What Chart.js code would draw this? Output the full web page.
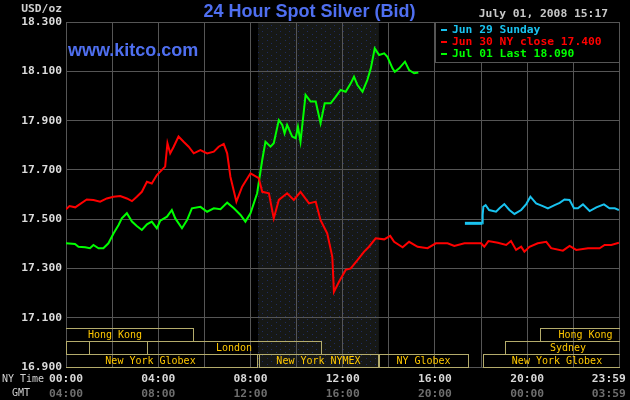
<!DOCTYPE html>
<html>
<head>
<meta charset="utf-8">
<title>24 Hour Spot Silver (Bid)</title>
<script src="https://cdn.jsdelivr.net/npm/chart.js@4.4.1/dist/chart.umd.min.js"></script>
<style>
  html, body { margin: 0; padding: 0; background: #000; }
  #chart { display: block; }
</style>
</head>
<body>
<canvas id="chart" width="630" height="400"></canvas>
<script>
// Hours are New York time, 0 = midnight
const dayEnd = 23 + 59 / 60;

// Jun 29 (Sunday evening open)
const jun29Hours = [17.30, 18.06, 18.07, 18.10, 18.20, 18.35, 18.65, 18.80, 19.01, 19.23, 19.45, 19.74, 19.96, 20.14, 20.39,
  20.68, 20.90, 21.19, 21.41, 21.62, 21.84, 22.03, 22.20, 22.42, 22.71, 23.00, 23.33, 23.57, 23.80, 23.98];
const jun29Prices = [17.483, 17.483, 17.517, 17.550, 17.557, 17.537, 17.530, 17.544, 17.561, 17.537, 17.521, 17.537, 17.561, 17.591, 17.564,
  17.553, 17.544, 17.557, 17.566, 17.580, 17.578, 17.544, 17.544, 17.560, 17.533, 17.548, 17.560, 17.544, 17.544, 17.537];

// Jun 30
const jun30Hours = [0.00, 0.15, 0.40, 0.90, 1.19, 1.48, 1.77, 2.06, 2.35, 2.64, 2.86, 3.07, 3.29, 3.51, 3.72, 3.94, 4.16, 4.30, 4.40,
  4.52, 4.67, 4.88, 5.10, 5.32, 5.54, 5.83, 6.12, 6.41, 6.62, 6.84, 6.99, 7.13, 7.39, 7.64, 8.00, 8.36, 8.51, 8.80, 9.01,
  9.23, 9.59, 9.88, 10.17, 10.54, 10.83, 11.04, 11.33, 11.55, 11.62, 11.84, 12.13, 12.35, 12.64, 12.93, 13.14, 13.43, 13.80,
  14.06, 14.23, 14.60, 14.88, 15.25, 15.68, 16.04, 16.55, 16.84, 17.28, 18.00, 18.14, 18.32, 18.73, 19.09, 19.30, 19.52,
  19.74, 19.88, 20.10, 20.46, 20.83, 21.04, 21.55, 21.84, 22.13, 22.64, 23.14, 23.36, 23.65, 23.98];
const jun30Prices = [17.540, 17.553, 17.548, 17.580, 17.578, 17.571, 17.584, 17.591, 17.594, 17.584, 17.573, 17.591, 17.611, 17.652, 17.645,
  17.679, 17.700, 17.713, 17.808, 17.767, 17.794, 17.835, 17.814, 17.794, 17.767, 17.780, 17.767, 17.774, 17.794, 17.805, 17.767,
  17.672, 17.571, 17.632, 17.686, 17.666, 17.611, 17.605, 17.503, 17.578, 17.605, 17.578, 17.611, 17.564, 17.571, 17.496, 17.442,
  17.347, 17.205, 17.246, 17.294, 17.300, 17.334, 17.368, 17.388, 17.422, 17.418, 17.432, 17.408, 17.386, 17.408, 17.388, 17.382,
  17.402, 17.402, 17.391, 17.402, 17.402, 17.388, 17.411, 17.404, 17.395, 17.411, 17.375, 17.388, 17.368, 17.388, 17.402, 17.408,
  17.382, 17.372, 17.391, 17.375, 17.382, 17.382, 17.395, 17.395, 17.404];

// Jul 01 (to 15:17)
const jul01Hours = [0.00, 0.39, 0.54, 0.83, 1.04, 1.19, 1.41, 1.62, 1.84, 2.06, 2.28, 2.42, 2.64, 2.86, 3.07, 3.29, 3.51, 3.72, 3.94,
  4.09, 4.38, 4.59, 4.74, 5.03, 5.25, 5.46, 5.83, 6.12, 6.41, 6.70, 6.99, 7.28, 7.57, 7.78, 8.00, 8.29, 8.51, 8.65, 8.87, 9.01,
  9.23, 9.38, 9.48, 9.59, 9.81, 9.96, 10.06, 10.17, 10.39, 10.61, 10.83, 11.04, 11.22, 11.48, 11.70, 11.91, 12.13, 12.35, 12.49,
  12.64, 12.86, 13.07, 13.22, 13.39, 13.58, 13.80, 13.94, 14.16, 14.26, 14.45, 14.70, 14.88, 15.10, 15.28];
const jul01Prices = [17.402, 17.399, 17.388, 17.386, 17.382, 17.395, 17.382, 17.382, 17.402, 17.442, 17.476, 17.503, 17.524, 17.490, 17.472,
  17.456, 17.479, 17.490, 17.463, 17.494, 17.510, 17.537, 17.503, 17.463, 17.496, 17.544, 17.550, 17.530, 17.544, 17.540, 17.567,
  17.544, 17.517, 17.490, 17.524, 17.605, 17.740, 17.814, 17.794, 17.808, 17.902, 17.882, 17.848, 17.882, 17.835, 17.828, 17.875,
  17.814, 18.004, 17.977, 17.977, 17.889, 17.970, 17.970, 17.997, 18.024, 18.017, 18.051, 18.078, 18.044, 18.017, 18.065, 18.112,
  18.193, 18.166, 18.173, 18.159, 18.112, 18.098, 18.112, 18.139, 18.105, 18.092, 18.095];

// Axis ticks
const gridHours = [0, 2, 4, 6, 8, 10, 12, 14, 16, 18, 20, 22, dayEnd];
const tickHours = [0, 4, 8, 12, 16, 20, dayEnd];
const nyTickLabels = ['00:00', '04:00', '08:00', '12:00', '16:00', '20:00', '23:59'];
const gmtTickLabels = ['04:00', '08:00', '12:00', '16:00', '20:00', '00:00', '03:59'];

// Trading sessions (row, name, start hour, end hour)
const sessionRows = [0, 0, 1, 1, 1, 1, 2, 2, 2, 2];
const sessionNames = ['Hong Kong', 'Hong Kong', '', '', 'London', 'Sydney', 'New York Globex', 'New York NYMEX', 'NY Globex', 'New York Globex'];
const sessionStarts = [-1.26, 20.57, 0, 1.0, 3.52, 19.04, -0.96, 8.36, 13.58, 18.07];
const sessionEnds = [5.52, 24.5, 1.0, 3.52, 11.04, 24.5, 8.29, 13.51, 17.42, 24.5];
const nymexShade = [8.33, 13.57];

const monoBold = { family: "'DejaVu Sans Mono', monospace", size: 11.3, weight: 'bold' };
const blue = '#4f6ff0';

function series(hours, prices) {
  return hours.map((h, i) => ({ x: h, y: prices[i] }));
}

function dotPattern(ctx) {
  const c = document.createElement('canvas');
  c.width = 9; c.height = 6;
  const p = c.getContext('2d');
  p.fillStyle = '#1f2c62';
  p.fillRect(1, 1, 1, 1);
  p.fillRect(6, 4, 1, 1);
  return ctx.createPattern(c, 'repeat');
}

const kitcoDecor = {
  id: 'kitcoDecor',
  beforeDraw(chart) {
    const { ctx, chartArea: a } = chart;
    const x = chart.scales.x;
    const x1 = x.getPixelForValue(nymexShade[0]);
    const x2 = x.getPixelForValue(nymexShade[1]);
    ctx.save();
    ctx.fillStyle = '#000';
    ctx.fillRect(0, 0, chart.width, chart.height);
    ctx.fillStyle = '#161816';
    ctx.fillRect(x1, a.top, x2 - x1, a.bottom - a.top);
    ctx.fillStyle = dotPattern(ctx);
    ctx.fillRect(x1, a.top, x2 - x1, a.bottom - a.top);
    ctx.restore();
  },
  afterDatasetsDraw(chart) {
    const { ctx, chartArea: a } = chart;
    const x = chart.scales.x;
    const rowH = 13;

    // session boxes
    ctx.save();
    ctx.beginPath();
    ctx.rect(a.left, a.top, a.right - a.left + 1, a.bottom - a.top + 1);
    ctx.clip();
    ctx.strokeStyle = '#b4ac6c';
    ctx.lineWidth = 1;
    ctx.font = "10px 'DejaVu Sans Mono', monospace";
    ctx.textAlign = 'center';
    ctx.textBaseline = 'middle';
    sessionNames.forEach((name, i) => {
      const top = Math.round(a.bottom) - rowH * (3 - sessionRows[i]);
      const l = Math.round(x.getPixelForValue(sessionStarts[i]));
      const r = Math.round(x.getPixelForValue(sessionEnds[i]));
      ctx.strokeRect(l + 0.5, top + 0.5, r - l, rowH);
      if (name) {
        ctx.fillStyle = '#ffc800';
        ctx.fillText(name, (l + r) / 2, top + rowH / 2 + 1);
      }
    });
    ctx.restore();

    // legend box
    ctx.save();
    const lx = Math.round(a.right) - 184, ly = Math.round(a.top);
    ctx.fillStyle = '#000';
    ctx.fillRect(lx, ly, 184, 40);
    ctx.strokeStyle = '#555';
    ctx.strokeRect(lx + 0.5, ly + 0.5, 184, 40);
    ctx.font = `bold ${monoBold.size}px ${monoBold.family}`;
    ctx.textAlign = 'left';
    ctx.textBaseline = 'middle';
    chart.data.datasets.forEach((ds, i) => {
      const y = ly + 8 + i * 12;
      ctx.fillStyle = ds.borderColor;
      ctx.fillRect(lx + 6, y - 1, 6, 2);
      ctx.fillText(ds.label, lx + 17, y);
    });
    ctx.restore();

    // texts around the frame
    ctx.save();
    ctx.font = "bold 18px 'Liberation Sans', Arial, sans-serif";
    ctx.fillStyle = blue;
    ctx.textAlign = 'left';
    ctx.textBaseline = 'alphabetic';
    ctx.fillText('www.kitco.com', 68, 56);

    ctx.font = `bold ${monoBold.size}px ${monoBold.family}`;
    ctx.textBaseline = 'middle';
    ctx.fillStyle = '#d0d0d0';
    ctx.textAlign = 'right';
    ctx.fillText('USD/oz', 62, 9);
    ctx.fillStyle = '#c8c8c8';
    ctx.fillText('July 01, 2008 15:17', 608, 14);

    ctx.font = "10px 'DejaVu Sans Mono', monospace";
    ctx.fillStyle = '#d0d0d0';
    ctx.textAlign = 'left';
    ctx.fillText('NY Time', 2, 379);
    ctx.fillText('GMT', 12, 393);
    ctx.restore();
  }
};

function tickLabel(labels) {
  return v => {
    const i = tickHours.indexOf(v);
    if (i < 0) return '';
    return labels[i] + (i === tickHours.length - 1 ? '   ' : '');
  };
}

new Chart(document.getElementById('chart'), {
  type: 'line',
  data: {
    datasets: [
      {
        label: 'Jun 29 Sunday', data: series(jun29Hours, jun29Prices), borderColor: '#19c3f0', borderWidth: 2,
        segment: { borderWidth: c => (c.p0DataIndex === 0 ? 3 : 2) }
      },
      { label: 'Jun 30 NY close 17.400', data: series(jun30Hours, jun30Prices), borderColor: '#ff0000', borderWidth: 2 },
      { label: 'Jul 01 Last 18.090', data: series(jul01Hours, jul01Prices), borderColor: '#00ff00', borderWidth: 2 }
    ]
  },
  options: {
    responsive: false,
    devicePixelRatio: 1,
    animation: false,
    events: [],
    elements: { point: { radius: 0 }, line: { tension: 0 } },
    layout: { padding: { left: 0, right: 11, top: 0, bottom: 0 } },
    plugins: {
      legend: { display: false },
      tooltip: { enabled: false },
      title: {
        display: true,
        text: '24 Hour Spot Silver (Bid)',
        color: blue,
        font: { family: "'Liberation Sans', Arial, sans-serif", size: 18, weight: 'bold', lineHeight: 1 },
        padding: { top: 3, bottom: 1 }
      }
    },
    scales: {
      x: {
        type: 'linear',
        min: 0,
        max: dayEnd,
        afterBuildTicks: s => { s.ticks = gridHours.map(v => ({ value: v })); },
        afterFit: s => { s.height = 18; s.paddingRight = 0; },
        grid: { color: '#555', drawTicks: false },
        border: { display: false },
        ticks: { autoSkip: false, maxRotation: 0, padding: 5, color: '#d8d8d8', font: monoBold, callback: tickLabel(nyTickLabels) }
      },
      x2: {
        type: 'linear',
        position: 'bottom',
        min: 0,
        max: dayEnd,
        afterBuildTicks: s => { s.ticks = tickHours.map(v => ({ value: v })); },
        afterFit: s => { s.height = 15; s.paddingRight = 0; },
        grid: { display: false, drawTicks: false },
        border: { display: false },
        ticks: { autoSkip: false, maxRotation: 0, padding: 2, color: '#6e6e6e', font: monoBold, callback: tickLabel(gmtTickLabels) }
      },
      y: {
        min: 16.9,
        max: 18.3,
        afterFit: s => { s.width = 66; },
        grid: { color: '#555', drawTicks: false },
        border: { display: false },
        ticks: { stepSize: 0.2, padding: 4, color: '#dcdcdc', font: monoBold, callback: v => v.toFixed(3) }
      }
    }
  },
  plugins: [kitcoDecor]
});
</script>
</body>
</html>
